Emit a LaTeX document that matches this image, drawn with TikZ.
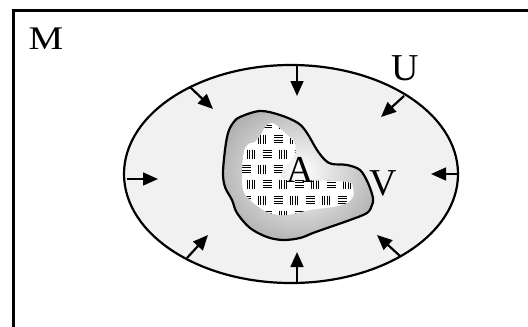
\documentclass[tikz,border=0pt]{standalone}
\usepackage{fontspec}
\setmainfont{Liberation Serif}
\usetikzlibrary{arrows.meta}
\begin{document}
\begin{tikzpicture}[x=0.5pt,y=-0.5pt,
  lbl/.style={font=\fontsize{19}{22}\selectfont, inner sep=0pt},
  inarrow/.style={line width=1.1pt, -{Triangle[length=7.5pt,width=6.4pt]}},
  hatchline/.style={line width=0.55pt, black},
  vg/.pic={\foreach \d in {-3.6,-1.2,1.2,3.6} \draw[hatchline] (\d,-4.5)--(\d,4.5);},
  hg/.pic={\foreach \d in {-3.6,-1.2,1.2,3.6} \draw[hatchline] (-4.5,\d)--(4.5,\d);}]
\useasboundingbox (0,0) rectangle (528,326);
\fill[white] (0,0) rectangle (528,326);
% frame (only left and top edges are inside the picture)
\draw[line width=1.1pt] (13.5,340) -- (13.5,10.5) -- (545,10.5);
% neighbourhood U
\draw[line width=1.1pt, fill=gray!11] (291,174) ellipse [x radius=167, y radius=109];
% blob V
\def\blobpath{plot[smooth cycle, tension=0.55] coordinates {(240,117) (260,111) (280,115) (298,123) (307,133) (317,150) (325,160) (332,164) (347,165) (360,170) (368,183) (373,198) (372,205) (367,213) (350,220) (330,227) (313,233) (300,238) (283,240) (267,237) (250,228) (237,213) (232,200) (225,187) (223,173) (225,150) (228,133) (233,123)}}
\def\setpath{plot[smooth cycle, tension=0.5] coordinates {(273,123) (285,133) (295,143) (295,155) (290,162) (283,170) (282,178) (300,180) (347,182) (353,188) (353,197) (347,203) (333,207) (310,210) (287,215) (273,214) (263,210) (250,200) (243,190) (242,173) (243,157) (245,148) (250,143) (255,142) (262,133) (265,127)}}
\begin{scope}
  \clip \blobpath;
  \shade[inner color=white, outer color=black!58] (300,172) ellipse [x radius=160, y radius=140];
\end{scope}
\draw[line width=1.1pt] \blobpath;
% set A with hatching
\begin{scope}
  \clip \setpath;
  \fill[white] (230,110) rectangle (370,230);
  \foreach \y in {139,169,200} \foreach \k in {0,...,3} {
    \pic at ({246+32*\k},\y) {hg};
    \pic at ({262+32*\k},\y) {vg};
  }
  \foreach \y in {124,154,184,215} \foreach \k in {0,...,3} {
    \pic at ({251+32*\k},\y) {vg};
    \pic at ({267+32*\k},\y) {hg};
  }
\end{scope}
% arrows pointing inward
\coordinate (t0) at (297,65);  \coordinate (t1) at (297,96);
\coordinate (b0) at (297,283); \coordinate (b1) at (297,252);
\coordinate (l0) at (127,179); \coordinate (l1) at (158,179);
\coordinate (r0) at (458,174); \coordinate (r1) at (431,174);
\coordinate (ul0) at (190,87);  \coordinate (ul1) at (213,109);
\coordinate (ur0) at (404,96);  \coordinate (ur1) at (381,117);
\coordinate (ll0) at (187,258); \coordinate (ll1) at (208,235);
\coordinate (lr0) at (400,256); \coordinate (lr1) at (377,235);
\draw[inarrow] (t0) -- (t1);
\draw[inarrow] (b0) -- (b1);
\draw[inarrow] (l0) -- (l1);
\draw[inarrow] (r0) -- (r1);
\draw[inarrow] (ul0) -- (ul1);
\draw[inarrow] (ur0) -- (ur1);
\draw[inarrow] (ll0) -- (ll1);
\draw[inarrow] (lr0) -- (lr1);
% labels
\node[inner sep=0pt, font=\fontsize{16.5}{20}\selectfont] (M) at (46,38.5) {\scalebox{1.18}[1]{M}};
\node[lbl] (U) at (405,68) {U};
\node[lbl] (V) at (383,183) {V};
\node[lbl] (A) at (300,170) {A};
\end{tikzpicture}
\end{document}
